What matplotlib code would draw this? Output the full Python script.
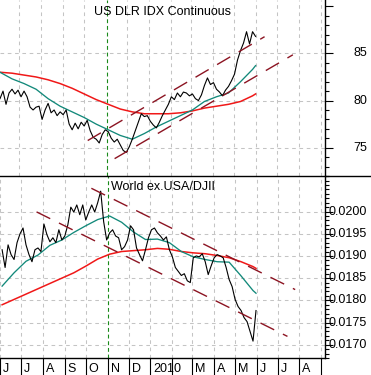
import matplotlib
matplotlib.use('Agg')
import matplotlib.pyplot as plt
import matplotlib.transforms as mtransforms
from matplotlib.lines import Line2D
import numpy as np
import pandas as pd

plt.rcParams['font.family'] = ['Liberation Sans', 'DejaVu Sans']

# ---------------- data ----------------
price_dates = pd.date_range('2009-06-04', periods=86, freq=pd.Timedelta(hours=102))

dlr_close = [80.2, 81.0, 79.6, 80.8, 81.2, 80.7, 81.1, 80.4, 81.0, 80.4,
             79.3, 79.0, 79.3, 79.4, 78.0, 79.0, 79.7, 78.7, 79.0, 78.4,
             78.8, 78.5, 79.0, 77.5, 76.9, 77.6, 77.0, 77.7, 77.3, 77.9,
             76.8, 76.1, 75.9, 75.5, 76.4, 76.9, 76.7, 76.0, 75.6, 75.9,
             75.3, 74.7, 74.5, 75.1, 75.9, 76.8, 77.7, 78.6, 78.3, 78.4,
             77.8, 77.4, 77.1, 77.7, 78.4, 79.0, 79.6, 80.4, 80.1, 80.8,
             80.4, 80.9, 80.8, 80.5, 80.7, 80.2, 80.0, 80.6, 81.6, 82.4,
             81.7, 81.9, 81.2, 80.9, 80.5, 81.1, 81.5, 82.1, 82.8, 84.3,
             85.3, 86.1, 87.3, 86.0, 87.3, 86.8]

world_close = [0.01914, 0.01874, 0.01925, 0.01903, 0.01892, 0.01930, 0.01950, 0.01963, 0.01925, 0.01903,
               0.01887, 0.01914, 0.01918, 0.01910, 0.01972, 0.01948, 0.01932, 0.01941, 0.01930, 0.01959,
               0.01936, 0.01945, 0.01970, 0.02010, 0.01999, 0.02015, 0.01993, 0.02015, 0.01981, 0.01999,
               0.02015, 0.01999, 0.02020, 0.02046, 0.01977, 0.01936, 0.01952, 0.01959, 0.01945, 0.01941,
               0.01914, 0.01921, 0.01936, 0.01968, 0.01959, 0.01918, 0.01903, 0.01889, 0.01914, 0.01941,
               0.01959, 0.01963, 0.01952, 0.01945, 0.01936, 0.01943, 0.01914, 0.01898, 0.01874, 0.01865,
               0.01856, 0.01860, 0.01844, 0.01840, 0.01896, 0.01900, 0.01898, 0.01905, 0.01887, 0.01858,
               0.01878, 0.01896, 0.01903, 0.01900, 0.01896, 0.01874, 0.01847, 0.01831, 0.01802, 0.01786,
               0.01777, 0.01761, 0.01752, 0.01730, 0.01708, 0.01777]

sma_dates = price_dates[list(range(0, 86, 4)) + [85]]
dlr_sma50 = [83.0, 82.3, 81.8, 81.2, 80.2, 79.4, 78.8, 78.2, 77.5, 76.9, 76.3, 75.9,
             76.5, 77.2, 77.8, 78.4, 79.0, 79.9, 80.4, 80.8, 82.0, 83.3, 83.7]
dlr_sma200 = [83.0, 82.9, 82.7, 82.5, 82.2, 81.8, 81.3, 80.7, 80.1, 79.6, 79.1, 78.8,
              78.6, 78.6, 78.6, 78.7, 78.9, 79.2, 79.4, 79.6, 79.9, 80.5, 80.7]
world_sma50 = [0.01832, 0.01862, 0.01888, 0.01902, 0.01924, 0.01936, 0.01953, 0.01968,
               0.01982, 0.01990, 0.01976, 0.01954, 0.01937, 0.01938, 0.01930, 0.01910,
               0.01898, 0.01892, 0.01887, 0.01886, 0.01855, 0.01822, 0.01816]
world_sma200 = [0.01790, 0.01802, 0.01814, 0.01826, 0.01838, 0.01850, 0.01862, 0.01877,
                0.01893, 0.01904, 0.01910, 0.01912, 0.01914, 0.01917, 0.01915, 0.01910,
                0.01907, 0.01905, 0.01901, 0.01896, 0.01887, 0.01876, 0.01872]

dlr_chan_upper_dates = ['2009-10-06', '2010-06-13']
dlr_chan_upper = [75.76, 86.77]
dlr_chan_lower_dates = ['2009-11-13', '2010-07-23']
dlr_chan_lower = [73.84, 84.85]
world_chan_upper_dates = ['2009-10-09', '2010-07-26']
world_chan_upper = [0.020525, 0.018242]
world_chan_lower_dates = ['2009-07-23', '2010-07-15']
world_chan_lower = [0.019993, 0.017187]

marker_date = '2009-11-02'
month_ticks = pd.date_range('2009-06-01', '2010-09-01', freq='MS')
month_labels = ['J', 'J', 'A', 'S', 'O', 'N', 'D', '2010', '', 'M', 'A', 'M', 'J', 'J', 'A', '']

dlr_ticks = [75, 80, 85, 90]
dlr_ticklabels = ['75', '80', '85', '']
dlr_grid = [75, 80, 85]
world_ticks = [0.0170, 0.0175, 0.0180, 0.0185, 0.0190, 0.0195, 0.0200]
world_ticklabels = ['0.0170', '0.0175', '0.0180', '0.0185', '0.0190', '0.0195', '0.0200']

# ---------------- styling ----------------
C_PRICE = 'black'
C_SMA50 = '#12897a'
C_SMA200 = '#f01818'
C_CHAN = '#8c1422'
C_GRID = '#c4c4c4'
FS = 9

W, H = 371, 375
fig = plt.figure(figsize=(W / 100, H / 100), dpi=100)
axw = 325 / W
ax1 = fig.add_axes([0, 1 - 176 / H, axw, 176 / H])
ax2 = fig.add_axes([0, 1 - 358 / H, axw, 182 / H])

xmin = pd.Timestamp('2009-06-04')
xmax = pd.Timestamp('2010-09-06 10:00')


def style_axes(ax, gridvals, ticks, labels, ylim, minor_step):
    ax.set_xlim(xmin, xmax)
    ax.set_ylim(*ylim)
    for s in ['left', 'top']:
        ax.spines[s].set_visible(False)
    ax.spines['right'].set_color('black')
    ax.spines['right'].set_linewidth(1.0)
    for d in month_ticks:
        if d == pd.Timestamp('2009-11-01'):
            continue
        ax.axvline(d, color=C_GRID, lw=0.75, dashes=(3.5, 3.5), zorder=1)
    for v in gridvals:
        ax.axhline(v, color=C_GRID, lw=0.75, dashes=(3.5, 3.5), zorder=1)
    ax.axvline(pd.Timestamp(marker_date), color='#1a8a1a', lw=0.8, dashes=(3.5, 2.5), zorder=2)
    ax.yaxis.tick_right()
    ax.set_yticks(ticks)
    ax.set_yticklabels([])
    minors = np.arange(ylim[0] - ylim[0] % minor_step, ylim[1], minor_step)
    ax.set_yticks(minors, minor=True)
    ax.tick_params(axis='y', which='major', length=5.5, width=0.8, color='black')
    ax.tick_params(axis='y', which='minor', length=2.8, width=0.8, color='black')
    tr = mtransforms.blended_transform_factory(ax.transAxes, ax.transData)
    for v, lab in zip(ticks, labels):
        if lab:
            ax.text(367 / 325, v, lab, transform=tr, ha='right', va='center',
                    fontsize=FS, clip_on=False)


# top panel
style_axes(ax1, dlr_grid, dlr_ticks, dlr_ticklabels, (72.88, 90.66), 1.0)
ax1.spines['bottom'].set_visible(False)
ax1.set_xticks([])
ax1.plot(sma_dates, dlr_sma200, color=C_SMA200, lw=1.1, zorder=3)
ax1.plot(sma_dates, dlr_sma50, color=C_SMA50, lw=0.95, zorder=3)
ax1.plot(price_dates, dlr_close, color=C_PRICE, lw=0.8, zorder=4)
ax1.plot(pd.to_datetime(dlr_chan_upper_dates), dlr_chan_upper, color=C_CHAN, lw=1.0, dashes=(11, 7), zorder=5)
ax1.plot(pd.to_datetime(dlr_chan_lower_dates), dlr_chan_lower, color=C_CHAN, lw=1.0, dashes=(11, 7), zorder=5)
ax1.text(0.5, 1 - 15 / 176, 'US DLR IDX Continuous', transform=ax1.transAxes,
         ha='center', va='baseline', fontsize=FS)

# bottom panel
style_axes(ax2, world_ticks, world_ticks, world_ticklabels, (0.016715, 0.020802), 0.0001)
ax2.spines['bottom'].set_color('black')
ax2.spines['bottom'].set_linewidth(1.0)
ax2.plot(sma_dates, world_sma200, color=C_SMA200, lw=1.1, zorder=3)
ax2.plot(sma_dates, world_sma50, color=C_SMA50, lw=0.95, zorder=3)
ax2.plot(price_dates, world_close, color=C_PRICE, lw=0.8, zorder=4)
ax2.plot(pd.to_datetime(world_chan_upper_dates), world_chan_upper, color=C_CHAN, lw=1.0, dashes=(11, 7), zorder=5)
ax2.plot(pd.to_datetime(world_chan_lower_dates), world_chan_lower, color=C_CHAN, lw=1.0, dashes=(11, 7), zorder=5)
ax2.text(0.5, 1 - 14 / 182, 'World ex.USA/DJII', transform=ax2.transAxes,
         ha='center', va='baseline', fontsize=FS)

ax2.set_xticks(month_ticks)
ax2.set_xticklabels([])
ax2.tick_params(axis='x', which='major', length=12.5, width=0.8, color='black', direction='out')
xtr = mtransforms.blended_transform_factory(ax2.transData, ax2.transAxes) + \
    mtransforms.ScaledTranslation(3 / 100, 0, fig.dpi_scale_trans)
for d, lab in zip(month_ticks, month_labels):
    if lab:
        ax2.text(d, -(371.5 - 358) / 182, lab, transform=xtr, ha='left', va='baseline',
                 fontsize=FS, clip_on=False)

fig.add_artist(Line2D([0, 1], [1 - 176 / H, 1 - 176 / H], transform=fig.transFigure,
                      color='black', lw=1.0))

fig.savefig('out.png', dpi=100)
